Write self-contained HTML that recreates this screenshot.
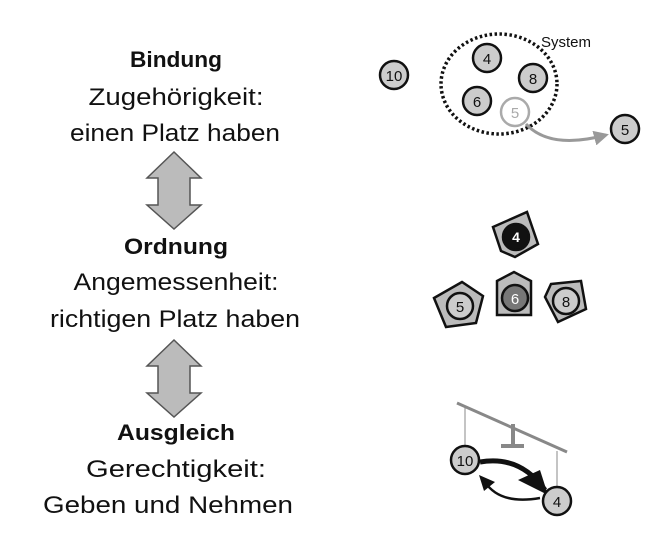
<!DOCTYPE html>
<html><head><meta charset="utf-8"><style>html,body{margin:0;padding:0;background:#fff;}svg{display:block}</style></head>
<body>
<svg width="671" height="542" viewBox="0 0 671 542" xmlns="http://www.w3.org/2000/svg" font-family="Liberation Sans, sans-serif">
<defs>
<marker id="ag" viewBox="0 0 10 10" refX="8" refY="5" markerWidth="5" markerHeight="5" orient="auto"><path d="M0,0L10,5L0,10z" fill="#999"/></marker>
</defs>
<g fill="#111" text-anchor="middle">
<text x="176" y="67" font-size="22" font-weight="bold" textLength="92" lengthAdjust="spacingAndGlyphs">Bindung</text>
<text x="176" y="105" font-size="24" textLength="175" lengthAdjust="spacingAndGlyphs">Zugehörigkeit:</text>
<text x="175" y="141" font-size="24" textLength="210" lengthAdjust="spacingAndGlyphs">einen Platz haben</text>
<text x="176" y="254" font-size="22" font-weight="bold" textLength="104" lengthAdjust="spacingAndGlyphs">Ordnung</text>
<text x="176" y="290" font-size="24" textLength="205" lengthAdjust="spacingAndGlyphs">Angemessenheit:</text>
<text x="175" y="327" font-size="24" textLength="250" lengthAdjust="spacingAndGlyphs">richtigen Platz haben</text>
<text x="176" y="440" font-size="22" font-weight="bold" textLength="118" lengthAdjust="spacingAndGlyphs">Ausgleich</text>
<text x="176" y="477" font-size="24" textLength="180" lengthAdjust="spacingAndGlyphs">Gerechtigkeit:</text>
<text x="168" y="513" font-size="24" textLength="250" lengthAdjust="spacingAndGlyphs">Geben und Nehmen</text>
</g>
<g fill="#bbb" stroke="#555" stroke-width="1.5">
<path d="M174,152 L201,178 L190,178 L190,205 L201,205 L174,229 L147,205 L158,205 L158,178 L147,178 Z"/>
<path d="M174,340 L201,366 L190,366 L190,393 L201,393 L174,417 L147,393 L158,393 L158,366 L147,366 Z"/>
</g>
<!-- top -->
<ellipse cx="499" cy="84" rx="58" ry="50" fill="none" stroke="#111" stroke-width="3.5" stroke-dasharray="2.5,2.5"/>
<text x="541" y="47" font-size="15" fill="#111">System</text>
<g stroke="#111" stroke-width="2.5" fill="#ccc">
<circle cx="394" cy="75" r="14"/><circle cx="487" cy="58" r="14"/><circle cx="533" cy="78" r="14"/><circle cx="477" cy="101" r="14"/><circle cx="625" cy="129" r="14"/>
</g>
<circle cx="515" cy="112" r="14" fill="#fff" stroke="#aaa" stroke-width="2.5"/>
<path d="M526,124 Q550,150 606,135" fill="none" stroke="#999" stroke-width="3" marker-end="url(#ag)"/>
<g font-size="15" text-anchor="middle" fill="#111">
<text x="394" y="81">10</text><text x="487" y="64">4</text><text x="533" y="84">8</text><text x="477" y="107">6</text><text x="625" y="135">5</text>
<text x="515" y="118" fill="#aaa">5</text>
</g>
<!-- middle -->
<g stroke="#111" stroke-width="2.5">
<polygon points="493,227 527,212 538,244 515,257 501,251" fill="#bbb"/>
<circle cx="516" cy="237" r="13" fill="#111"/>
<polygon points="434,298 462,282 483,296 476,323 446,327" fill="#bbb"/>
<circle cx="460" cy="306" r="13" fill="#ccc"/>
<polygon points="497,281 514,272 531,281 531,315 497,315" fill="#bbb"/>
<circle cx="515" cy="298" r="13" fill="#777"/>
<polygon points="551,284 581,281 586,309 558,322 545,297" fill="#bbb"/>
<circle cx="566" cy="301" r="13" fill="#ccc"/>
</g>
<g font-size="15" text-anchor="middle">
<text x="516" y="242" fill="#fff" font-weight="bold" font-size="14">4</text>
<text x="460" y="312" fill="#111">5</text>
<text x="515" y="304" fill="#fff">6</text>
<text x="566" y="307" fill="#111">8</text>
</g>
<!-- bottom -->
<line x1="457" y1="403" x2="567" y2="452" stroke="#888" stroke-width="3"/>
<path d="M513,424 L513,445 M501,446 L524,446" stroke="#888" stroke-width="4" fill="none"/>
<line x1="465" y1="408" x2="465" y2="447" stroke="#888" stroke-width="1"/>
<line x1="557" y1="451" x2="557" y2="488" stroke="#888" stroke-width="1"/>
<path d="M480,462 Q520,455 545,490" fill="none" stroke="#111" stroke-width="5"/>
<polygon points="548,495 518,480 540,470" fill="#111"/>
<path d="M540,498 Q500,505 485,482" fill="none" stroke="#111" stroke-width="2.5"/>
<polygon points="479,475 495,482 484,491" fill="#111"/>
<g stroke="#111" stroke-width="2.5" fill="#ccc">
<circle cx="465" cy="460" r="14"/><circle cx="557" cy="501" r="14"/>
</g>
<g font-size="15" text-anchor="middle" fill="#111"><text x="465" y="466">10</text><text x="557" y="507">4</text></g>
</svg>
</body></html>
